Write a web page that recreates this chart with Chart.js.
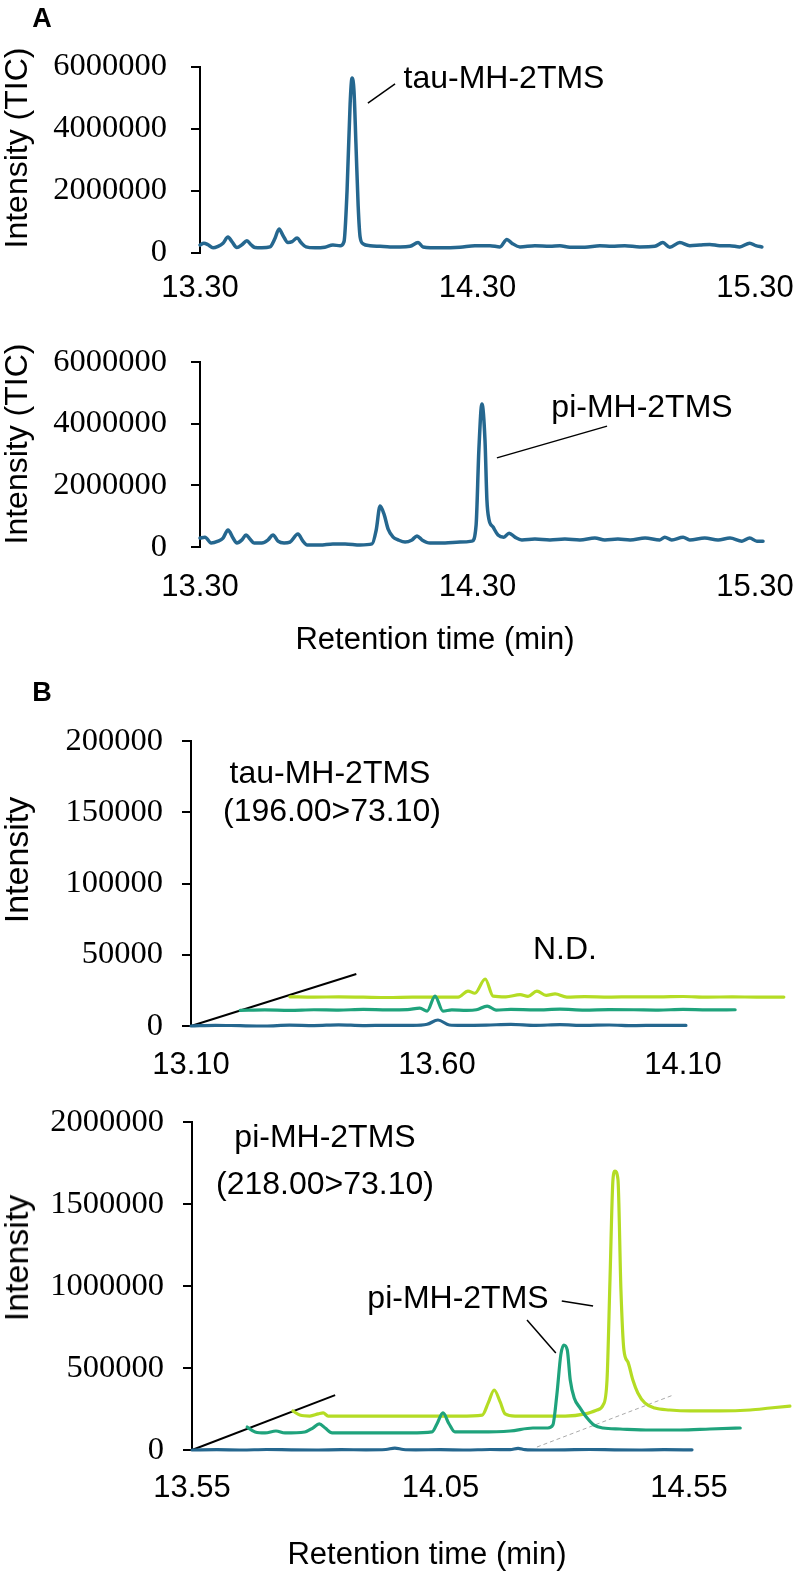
<!DOCTYPE html>
<html><head><meta charset="utf-8">
<script src="https://cdn.jsdelivr.net/npm/chart.js@4.4.1/dist/chart.umd.min.js"></script>
<style>
html,body{margin:0;padding:0;background:#fff;}
#wrap{position:relative;width:797px;height:1571px;overflow:hidden;background:#fff;}
canvas{position:absolute;left:0;}
.t{position:absolute;white-space:nowrap;line-height:1;transform:translate(-50%,-50%);font-family:"Liberation Sans",Arial,sans-serif;color:#000;font-size:32px;}
.r{transform:translate(-50%,-50%) rotate(-90deg);}
.b{font-weight:bold;font-size:27px;}
</style></head><body><div id="wrap">
<canvas id="c1" width="797" height="320" style="top:0px"></canvas>
<canvas id="c2" width="797" height="300" style="top:320px"></canvas>
<canvas id="c3" width="797" height="450" style="top:650px"></canvas>
<canvas id="c4" width="797" height="471" style="top:1100px"></canvas>

<div class="t b" style="left:42px;top:18px">A</div>
<div class="t r" style="left:16px;top:148px">Intensity (TIC)</div>
<div class="t" style="left:504px;top:77px">tau-MH-2TMS</div>
<div class="t r" style="left:16px;top:444px">Intensity (TIC)</div>
<div class="t" style="left:642px;top:406px">pi-MH-2TMS</div>
<div class="t" style="left:435px;top:638px;font-size:31px">Retention time (min)</div>
<div class="t b" style="left:42px;top:692px">B</div>
<div class="t r" style="left:16px;top:860px;font-size:34px">Intensity</div>
<div class="t" style="left:330px;top:772px">tau-MH-2TMS</div>
<div class="t" style="left:332px;top:810px">(196.00&gt;73.10)</div>
<div class="t" style="left:565px;top:948px">N.D.</div>
<div class="t r" style="left:16px;top:1258px;font-size:34px">Intensity</div>
<div class="t" style="left:325px;top:1136px">pi-MH-2TMS</div>
<div class="t" style="left:325px;top:1183px">(218.00&gt;73.10)</div>
<div class="t" style="left:458px;top:1297px">pi-MH-2TMS</div>
<div class="t" style="left:427px;top:1553px;font-size:31px">Retention time (min)</div>
</div>
<script>
// ---------- Panel A (TIC) ----------
const aTicksX = [13.30, 14.30, 15.30];
const aTicksY = [0, 2000000, 4000000, 6000000];

const a1Time = [13.300,13.314,13.329,13.347,13.365,13.383,13.401,13.415,13.433,13.451,13.469,13.484,13.498,13.523,13.552,13.570,13.585,13.599,13.617,13.632,13.650,13.664,13.682,13.714,13.750,13.779,13.805,13.819,13.830,13.841,13.848,13.855,13.862,13.870,13.877,13.888,13.913,13.949,13.985,14.021,14.057,14.086,14.104,14.165,14.237,14.291,14.345,14.381,14.406,14.424,14.453,14.507,14.561,14.597,14.633,14.687,14.741,14.784,14.831,14.885,14.939,14.968,14.993,15.029,15.065,15.101,15.137,15.173,15.209,15.245,15.281,15.303,15.325];
const a1Intensity = [240000,300000,250000,150000,200000,300000,500000,350000,160000,250000,380000,250000,160000,150000,180000,450000,760000,550000,320000,350000,470000,320000,180000,150000,170000,240000,220000,350000,2000000,4800000,5630000,5200000,3500000,1500000,500000,280000,220000,200000,180000,180000,200000,320000,180000,150000,170000,220000,220000,180000,420000,300000,180000,220000,200000,220000,170000,170000,220000,200000,220000,180000,200000,320000,170000,320000,220000,240000,260000,220000,220000,180000,300000,220000,180000];
const a1PointerTime = [13.905, 14.003];
const a1PointerIntensity = [4820000, 5440000];

const a2Time = [13.300,13.318,13.340,13.365,13.383,13.401,13.419,13.433,13.451,13.466,13.480,13.495,13.523,13.545,13.563,13.581,13.603,13.624,13.653,13.671,13.686,13.732,13.779,13.823,13.877,13.920,13.935,13.949,13.964,13.978,13.996,14.014,14.039,14.064,14.082,14.100,14.129,14.183,14.237,14.280,14.295,14.305,14.316,14.327,14.334,14.341,14.356,14.374,14.395,14.414,14.435,14.460,14.507,14.561,14.615,14.669,14.723,14.759,14.806,14.850,14.904,14.957,14.975,15.000,15.041,15.065,15.119,15.167,15.210,15.253,15.281,15.307,15.329];
const a2Intensity = [290000,320000,130000,190000,290000,550000,290000,130000,230000,390000,260000,130000,130000,230000,390000,190000,130000,160000,420000,190000,65000,65000,100000,100000,65000,100000,550000,1330000,1040000,580000,320000,230000,160000,230000,360000,230000,130000,130000,160000,190000,710000,3150000,4640000,3470000,1520000,910000,650000,390000,320000,450000,320000,230000,260000,230000,260000,230000,290000,230000,260000,230000,290000,230000,320000,230000,320000,230000,290000,230000,290000,190000,290000,190000,190000];
const a2PointerTime = [14.370, 14.767];
const a2PointerIntensity = [2890000, 3920000];

// ---------- Panel B1 (tau, MRM 196.00>73.10) ----------
const b1TicksX = [13.10, 13.60, 14.10];
const b1TicksY = [0, 50000, 100000, 150000, 200000];
const b1BlueTime = [13.10,13.15,13.20,13.25,13.30,13.35,13.40,13.45,13.50,13.55,13.58,13.602,13.625,13.65,13.70,13.75,13.80,13.85,13.90,13.95,14.00,14.05,14.106];
const b1BlueIntensity = [0,500,200,0,600,300,800,300,500,400,1200,4200,700,400,600,1200,500,900,400,700,300,500,400];
const b1GreenTime = [13.200,13.25,13.30,13.35,13.40,13.45,13.50,13.54,13.565,13.580,13.596,13.612,13.63,13.66,13.68,13.702,13.72,13.75,13.80,13.85,13.90,13.95,14.00,14.05,14.10,14.15,14.206];
const b1GreenIntensity = [11000,11300,11000,11400,11200,11600,11300,11500,12600,10500,21000,10500,11300,11000,11400,14000,11200,11600,11300,11800,11200,11500,11400,11200,11600,11300,11400];
const b1LimeTime = [13.301,13.35,13.40,13.45,13.50,13.55,13.60,13.643,13.663,13.677,13.698,13.714,13.74,13.769,13.785,13.803,13.822,13.840,13.864,13.90,13.95,14.00,14.05,14.10,14.15,14.20,14.25,14.305];
const b1LimeIntensity = [20500,20300,20400,20200,20000,20300,20200,20300,24500,23000,33000,21000,20500,22000,20800,24500,21500,22500,20300,20600,20300,20500,20400,20700,20300,20400,20300,20300];
const b1AxisTime = [13.10, 13.436];
const b1AxisIntensity = [0, 36500];

// ---------- Panel B2 (pi, MRM 218.00>73.10) ----------
const b2TicksX = [13.55, 14.05, 14.55];
const b2TicksY = [0, 500000, 1000000, 1500000, 2000000];
const b2BlueTime = [13.55,13.60,13.65,13.70,13.75,13.80,13.85,13.90,13.94,13.958,13.975,14.00,14.05,14.10,14.15,14.19,14.206,14.22,14.25,14.30,14.35,14.40,14.45,14.50,14.556];
const b2BlueIntensity = [0,2000,0,3000,1000,0,2000,1000,3000,12000,3000,1000,2000,0,3000,2000,10000,2000,0,1000,3000,1000,0,2000,1000];
const b2GreenTime = [13.661,13.677,13.697,13.719,13.737,13.777,13.793,13.806,13.818,13.832,13.868,13.928,13.989,14.033,14.043,14.055,14.067,14.079,14.129,14.190,14.236,14.266,14.276,14.284,14.292,14.298,14.305,14.311,14.319,14.331,14.345,14.359,14.377,14.411,14.472,14.532,14.592,14.653];
const b2GreenIntensity = [140000,110000,104000,116000,104000,110000,134000,159000,134000,104000,104000,104000,104000,110000,160000,226000,160000,110000,110000,116000,134000,134000,152000,335000,580000,640000,610000,427000,317000,256000,195000,152000,134000,128000,122000,122000,128000,134000];
const b2LimeTime = [13.753,13.767,13.787,13.804,13.814,13.824,13.868,13.928,14.009,14.089,14.134,14.146,14.158,14.170,14.180,14.200,14.250,14.301,14.341,14.365,14.377,14.385,14.391,14.397,14.401,14.407,14.413,14.419,14.427,14.437,14.447,14.461,14.481,14.511,14.552,14.612,14.673,14.713,14.753];
const b2LimeIntensity = [238000,213000,207000,220000,226000,207000,207000,207000,207000,207000,213000,287000,366000,293000,220000,207000,207000,207000,220000,244000,274000,427000,1040000,1650000,1700000,1650000,976000,610000,537000,427000,348000,287000,256000,244000,238000,238000,244000,256000,268000];
const b2AxisTime = [13.55, 13.838];
const b2AxisIntensity = [0, 335000];
const b2GuideTime = [14.244, 14.518];
const b2GuideIntensity = [18000, 335000];
const b2Pointer1Time = [14.294, 14.357];
const b2Pointer1Intensity = [909000, 878000];
const b2Pointer2Time = [14.224, 14.282];
const b2Pointer2Intensity = [793000, 591000];

// ---------- helpers ----------
const pts = (xs, ys) => xs.map((x, i) => ({x: x, y: ys[i]}));
const BLUE = '#25678f', GREEN = '#1fa37c', LIME = '#b4dc24';
const serif = '"Liberation Serif","Times New Roman",serif';
const sans = '"Liberation Sans",Arial,sans-serif';

function trace(xs, ys, color, w) {
  return {data: pts(xs, ys), borderColor: color, borderWidth: w || 3, pointRadius: 0,
          cubicInterpolationMode: 'monotone', fill: false, clip: false, borderJoinStyle: 'round', borderCapStyle: 'round'};
}
function straight(xs, ys, color, w, dash) {
  return {data: pts(xs, ys), borderColor: color, borderWidth: w, pointRadius: 0, tension: 0,
          fill: false, clip: false, borderDash: dash || []};
}

function makeChart(id, cfg) {
  new Chart(document.getElementById(id), {
    type: 'line',
    data: {datasets: cfg.datasets},
    options: {
      responsive: false, animation: false, maintainAspectRatio: false,
      events: [],
      layout: {padding: {left: 0, top: cfg.padTop, right: cfg.padRight, bottom: 0}},
      plugins: {legend: {display: false}, tooltip: {enabled: false}, title: {display: false}},
      scales: {
        x: {
          type: 'linear', min: cfg.xMin, max: cfg.xMax,
          grid: {display: false, drawTicks: false, tickLength: 0},
          border: {display: false},
          afterBuildTicks: s => { s.ticks = cfg.xTicks.map(v => ({value: v})); },
          afterFit: s => { s.height = cfg.xHeight; s.paddingLeft = 0; s.paddingRight = 0; },
          ticks: {autoSkip: false, maxRotation: 0, minRotation: 0, padding: cfg.xPad, color: '#000',
                  font: {family: sans, size: 31, lineHeight: 1},
                  callback: v => Number(v).toFixed(2)}
        },
        y: {
          type: 'linear', min: 0, max: cfg.yTicks[cfg.yTicks.length - 1],
          grid: {display: true, drawOnChartArea: false, drawTicks: true, tickLength: 9, color: '#000', lineWidth: 2},
          border: {display: true, color: '#000', width: 2},
          afterBuildTicks: s => { s.ticks = cfg.yTicks.map(v => ({value: v})); },
          afterFit: s => { s.width = cfg.yWidth; s.paddingTop = 0; s.paddingBottom = 0; },
          ticks: {padding: cfg.yPad, color: '#000', font: {family: serif, size: 32.5, lineHeight: 1},
                  callback: v => String(v)}
        }
      }
    }
  });
}

makeChart('c1', {
  datasets: [trace(a1Time, a1Intensity, BLUE, 3.5), straight(a1PointerTime, a1PointerIntensity, '#000', 1.5)],
  xMin: 13.30, xMax: 15.33, xTicks: aTicksX, yTicks: aTicksY,
  padTop: 66.5, padRight: 33.7, xHeight: 67.5, xPad: 20, yWidth: 200, yPad: 24
});
makeChart('c2', {
  datasets: [trace(a2Time, a2Intensity, BLUE, 3.5), straight(a2PointerTime, a2PointerIntensity, '#000', 1.5)],
  xMin: 13.30, xMax: 15.33, xTicks: aTicksX, yTicks: aTicksY,
  padTop: 42, padRight: 33.7, xHeight: 73, xPad: 24.5, yWidth: 200, yPad: 24
});
makeChart('c3', {
  datasets: [
    trace(b1BlueTime, b1BlueIntensity, BLUE, 3.2),
    trace(b1GreenTime, b1GreenIntensity, GREEN, 3.2),
    trace(b1LimeTime, b1LimeIntensity, LIME, 3.2),
    straight(b1AxisTime, b1AxisIntensity, '#000', 2)
  ],
  xMin: 13.10, xMax: 14.31, xTicks: b1TicksX, yTicks: b1TicksY,
  padTop: 91, padRight: 10.7, xHeight: 74, xPad: 23.5, yWidth: 191, yPad: 19
});
makeChart('c4', {
  datasets: [
    straight(b2Pointer1Time, b2Pointer1Intensity, '#000', 1.5),
    straight(b2Pointer2Time, b2Pointer2Intensity, '#000', 1.5),
    trace(b2BlueTime, b2BlueIntensity, BLUE, 3.2),
    trace(b2GreenTime, b2GreenIntensity, GREEN, 3.2),
    trace(b2LimeTime, b2LimeIntensity, LIME, 3.2),
    straight(b2GuideTime, b2GuideIntensity, '#aaaaaa', 1, [4, 3]),
    straight(b2AxisTime, b2AxisIntensity, '#000', 2)
  ],
  xMin: 13.55, xMax: 14.76, xTicks: b2TicksX, yTicks: b2TicksY,
  padTop: 22, padRight: 3.6, xHeight: 121, xPad: 22.5, yWidth: 192, yPad: 19
});
</script>
</body></html>
